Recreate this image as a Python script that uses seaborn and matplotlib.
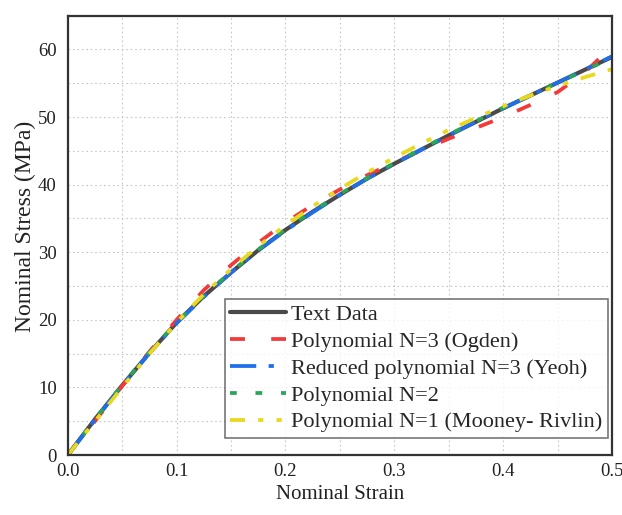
import numpy as np
import pandas as pd
import matplotlib
matplotlib.use("Agg")
import matplotlib.pyplot as plt
from matplotlib.ticker import MultipleLocator
import seaborn as sns

# strain values (nominal)
strain = [0.0, 0.025, 0.05, 0.075, 0.1, 0.125, 0.15, 0.175, 0.2, 0.225, 0.25,
          0.275, 0.3, 0.325, 0.35, 0.375, 0.4, 0.425, 0.45, 0.475, 0.5]

# nominal stress (MPa)
test_data = [0.0, 5.3, 10.3, 15.1, 19.6, 23.5, 27.0, 30.3, 33.3, 36.0, 38.5,
             40.9, 43.1, 45.2, 47.3, 49.3, 51.3, 53.2, 55.1, 57.0, 58.9]
ogden = [0.0, 5.0, 10.2, 15.3, 20.0, 24.4, 28.1, 31.4, 34.4, 37.0, 39.3,
         41.4, 43.3, 45.1, 46.8, 48.4, 50.0, 51.8, 53.7, 56.6, 60.5]
yeoh = [0.0, 5.2, 10.3, 15.1, 19.5, 23.4, 27.0, 30.3, 33.2, 35.9, 38.5,
        40.9, 43.1, 45.2, 47.3, 49.3, 51.3, 53.2, 55.1, 57.0, 59.0]
poly2 = [0.0, 5.3, 10.4, 15.2, 19.6, 23.6, 27.1, 30.4, 33.4, 36.1, 38.6,
         41.0, 43.2, 45.3, 47.4, 49.4, 51.4, 53.2, 55.1, 56.9, 58.8]
mooney = [0.0, 5.0, 10.0, 15.0, 19.6, 23.8, 27.5, 30.9, 34.0, 36.8, 39.4,
          41.8, 44.0, 46.1, 48.1, 49.9, 51.6, 53.2, 54.6, 55.9, 57.1]

labels = ["Text Data", "Polynomial N=3 (Ogden)", "Reduced polynomial N=3 (Yeoh)",
          "Polynomial N=2", "Polynomial N=1 (Mooney- Rivlin)"]
series = [test_data, ogden, yeoh, poly2, mooney]

df = pd.concat([pd.DataFrame({"strain": strain, "stress": s, "model": l})
                for s, l in zip(series, labels)], ignore_index=True)

sns.set_style("white")
plt.rcParams['font.family'] = ['Liberation Serif', 'DejaVu Serif']
plt.rcParams['xtick.direction'] = 'in'
plt.rcParams['ytick.direction'] = 'in'

colors = ["#4a4a4a", "#f23a3a", "#1f6fe8", "#2aa55a", "#e8d81e"]
styles = ["-", (0, (4, 7)), (0, (7, 3.3, 1.4, 3.3)), (0, (1.8, 5)),
          (0, (4, 3.5, 1.4, 3.5, 1.4, 3.5))]
widths = [3.0, 2.7, 2.7, 2.7, 2.7]

fig = plt.figure(figsize=(6.22, 5.15), dpi=100)
ax = fig.add_axes([0.109, 0.1165, 0.875, 0.853])

for i, l in enumerate(labels):
    sns.lineplot(data=df[df["model"] == l], x="strain", y="stress", ax=ax,
                 color=colors[i], linestyle=styles[i], linewidth=widths[i],
                 label=l, estimator=None, sort=False)

ax.set_xlim(0, 0.5)
ax.set_ylim(0, 65)
ax.xaxis.set_major_locator(MultipleLocator(0.1))
ax.xaxis.set_minor_locator(MultipleLocator(0.05))
ax.yaxis.set_major_locator(MultipleLocator(10))
ax.yaxis.set_minor_locator(MultipleLocator(5))
ax.xaxis.set_major_formatter(plt.FormatStrFormatter('%.1f'))
ax.grid(True, which='both', color='#c8c8c8', linestyle=(0, (1.5, 2.5)), linewidth=0.8)
ax.tick_params(which='major', length=5, width=1.2, labelsize=13.5, colors='#222222')
ax.tick_params(axis='y', pad=8)
ax.tick_params(axis='x', pad=6)
ax.tick_params(which='minor', length=3, width=1.0)
for sp in ax.spines.values():
    sp.set_color('#333333')
    sp.set_linewidth(1.6)

ax.set_xlabel("Nominal Strain", fontsize=15, color='#222222', labelpad=3)
ax.set_ylabel("Nominal Stress (MPa)", fontsize=17, color='#222222', labelpad=4)
ax.yaxis.set_label_coords(-0.058, 0.52)

leg = ax.legend(loc='lower right', bbox_to_anchor=(0.993, 0.039), fontsize=16,
                handlelength=2.5, handletextpad=0.25, labelspacing=0.28,
                borderpad=0.25, borderaxespad=0, fancybox=False, frameon=True)
leg.get_frame().set_edgecolor('#555555')
leg.get_frame().set_linewidth(1.2)

fig.savefig("out.png", dpi=100)
